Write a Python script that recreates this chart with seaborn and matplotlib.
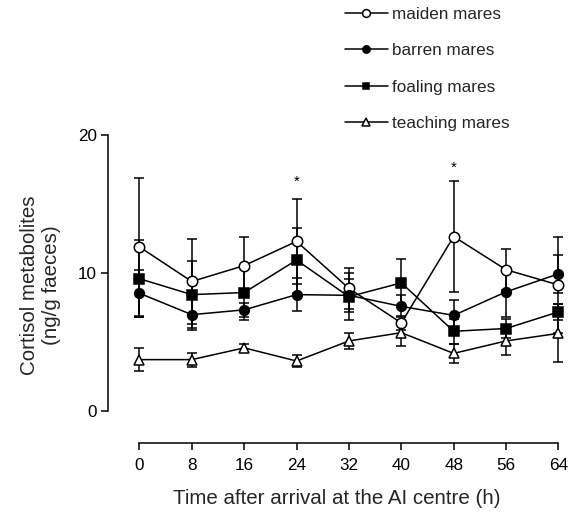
import matplotlib
matplotlib.use("Agg")
import matplotlib.pyplot as plt
import seaborn as sns
import numpy as np
import pandas as pd

# ---- data ----
times = [0, 8, 16, 24, 32, 40, 48, 56, 64]
series_names = ["maiden mares", "barren mares", "foaling mares", "teaching mares"]
maiden = [11.9, 9.4, 10.55, 12.3, 8.9, 6.4, 12.65, 10.25, 9.15]
maiden_err = [5.0, 3.1, 2.1, 3.1, 1.5, 0.5, 4.0, 1.5, 3.5]
barren = [8.55, 7.0, 7.35, 8.45, 8.4, 7.6, 6.95, 8.65, 9.95]
barren_err = [1.7, 1.1, 0.5, 1.2, 1.2, 0.8, 1.1, 1.8, 1.4]
foaling = [9.6, 8.45, 8.6, 10.95, 8.3, 9.3, 5.8, 6.0, 7.2]
foaling_err = [2.8, 2.4, 2.0, 2.35, 1.7, 1.7, 0.9, 0.7, 0.6]
teaching = [3.75, 3.75, 4.6, 3.65, 5.1, 5.7, 4.2, 5.1, 5.65]
teaching_err = [0.85, 0.5, 0.3, 0.45, 0.55, 0.95, 0.7, 1.0, 2.1]
star_times = [24, 48]
star_y = [16.6, 17.6]
x_ticks = [0, 8, 16, 24, 32, 40, 48, 56, 64]
y_ticks = [0, 10, 20]

values = [maiden, barren, foaling, teaching]
errors = [maiden_err, barren_err, foaling_err, teaching_err]
markers = ["o", "o", "s", "^"]
facecolors = ["white", "black", "black", "white"]
msizes = [7.5, 7.0, 6.5, 7.0]

sns.set_style("ticks")
plt.rcParams["font.family"] = ["Liberation Sans", "DejaVu Sans"]

fig = plt.figure(figsize=(5.68, 5.12), dpi=100)
ax = fig.add_axes([108 / 568, 1 - 443 / 512, (565 - 108) / 568, (443 - 128) / 512])

for name, vals, errs, mk, fc, ms in zip(series_names, values, errors, markers, facecolors, msizes):
    df = pd.DataFrame({"time": times, "value": vals})
    ax.errorbar(df["time"], df["value"], yerr=errs, fmt="none", ecolor="black",
                elinewidth=1.1, capsize=3.8, capthick=1.1, zorder=1)
    sns.lineplot(data=df, x="time", y="value", ax=ax, color="black", linewidth=1.1,
                 marker=mk, markersize=ms, markerfacecolor=fc, markeredgecolor="black",
                 markeredgewidth=1.1, label=name, zorder=3)

for t, y in zip(star_times, star_y):
    ax.text(t, y, "*", ha="center", va="center", fontsize=11, color="black")

ax.set_xlim(-4.8, 65.0)
ax.set_ylim(-2.28, 20.5)
ax.set_xticks(x_ticks)
ax.set_xticklabels([str(v) for v in x_ticks])
ax.set_yticks(y_ticks)
ax.set_yticklabels([str(v) for v in y_ticks])
ax.spines["top"].set_visible(False)
ax.spines["right"].set_visible(False)
ax.spines["left"].set_bounds(0, 20)
ax.spines["bottom"].set_bounds(0, 64)
for s in ["left", "bottom"]:
    ax.spines[s].set_linewidth(1.1)
    ax.spines[s].set_color("black")
ax.tick_params(axis="both", direction="out", length=5, width=1.1, colors="black",
               labelsize=12.3)
ax.tick_params(axis="x", pad=6)
ax.tick_params(axis="y", pad=3)
ax.set_xlabel("Time after arrival at the AI centre (h)", fontsize=14.8, labelpad=11)
ax.set_ylabel("Cortisol metabolites\n(ng/g faeces)", fontsize=14.8, labelpad=12)

handles, labels = ax.get_legend_handles_labels()
ax.get_legend().remove()
fig.legend(handles, labels, loc="upper left", bbox_to_anchor=(345 / 568, 1 - 7 / 512),
           frameon=False, fontsize=12.3, handlelength=2.5, handletextpad=0.25,
           labelspacing=1.25, borderpad=0, borderaxespad=0, markerscale=0.75)

fig.savefig("out.png", dpi=100)
